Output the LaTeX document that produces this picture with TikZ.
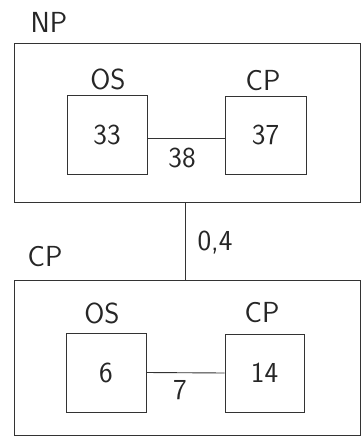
\documentclass[tikz,border=0pt]{standalone}
\usepackage{fontspec}
\begin{document}
\begin{tikzpicture}[x=1pt,y=-1pt,
  every node/.style={font=\sffamily\fontsize{29}{29}\selectfont, text=black!85},
  outerbox/.style={draw=black!80, line width=0.9pt, minimum width=346pt, inner sep=0pt},
  innerbox/.style={draw=black!80, line width=0.9pt, minimum width=80pt, minimum height=79pt, inner sep=0pt},
  lbl/.style={inner sep=0pt},
  link/.style={draw=black!80, line width=0.9pt}]
\useasboundingbox (0,0) rectangle (363,437);
% top group
\node[outerbox, minimum height=159pt] (npbox) at (187,122.5) {};
\node[innerbox] (os1) at (107,134.5) {33};
\node[innerbox, minimum width=81pt, minimum height=78pt] (cp1) at (265.5,135) {37};
\node[lbl] (np) at (49,22) {NP};
\node[lbl] (os1l) at (108,79) {OS};
\node[lbl] (cp1l) at (263,81) {CP};
\node[lbl] (w38) at (182,158) {38};
% bottom group
\node[outerbox, minimum height=155pt] (cpbox) at (187,357.5) {};
\node[innerbox] (os2) at (106,372.5) {6};
\node[innerbox, minimum width=79pt, minimum height=78pt] (cp2) at (264.5,373) {14};
\node[lbl] (cpl) at (45,257) {CP};
\node[lbl] (os2l) at (102,313) {OS};
\node[lbl] (cp2l) at (262,313) {CP};
\node[lbl] (w7) at (180,390) {7};
\node[lbl] (w04) at (215,243) {0,4};
% connectors
\draw[link] ([yshift=-3.5pt]os1.east) -- ([yshift=-3pt]cp1.west);
\draw[link] (os2.east) -- (cp2.west);
\draw[link] ([xshift=-2pt]npbox.south) -- ([xshift=-2pt]cpbox.north);
\end{tikzpicture}
\end{document}
